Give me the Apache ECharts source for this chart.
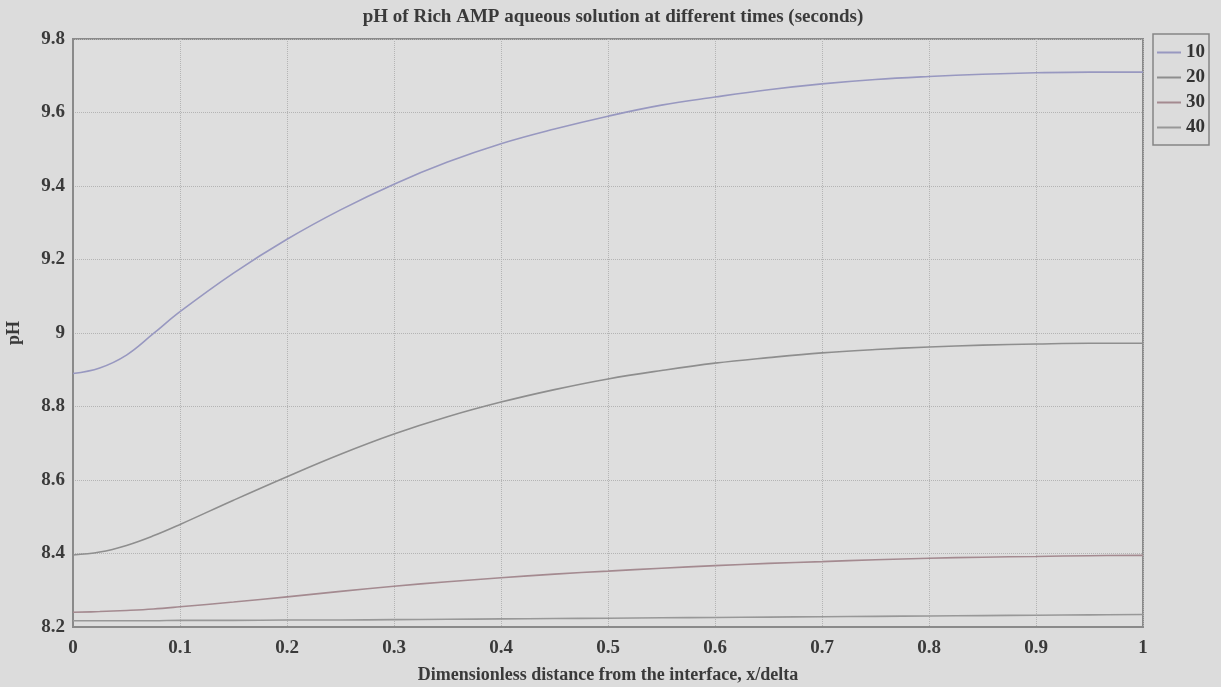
<!DOCTYPE html>
<html>
<head>
<meta charset="utf-8">
<script src="https://cdn.jsdelivr.net/npm/echarts@6/dist/echarts.min.js"></script>
<style>
html,body{margin:0;padding:0;background:#dcdcdc;}
#chart{width:1221px;height:687px;}
</style>
</head>
<body>
<div id="chart"></div>
<script>
const xValues = [0,0.025,0.05,0.075,0.1,0.15,0.2,0.25,0.3,0.35,0.4,0.45,0.5,0.55,0.6,0.65,0.7,0.75,0.8,0.85,0.9,0.95,1];
const seriesNames = ['10','20','30','40'];
const ph10 = [8.89,8.905,8.94,8.998,9.058,9.163,9.255,9.335,9.405,9.465,9.515,9.555,9.59,9.62,9.642,9.662,9.678,9.69,9.698,9.704,9.708,9.71,9.71];
const ph20 = [8.396,8.404,8.422,8.448,8.479,8.545,8.609,8.67,8.725,8.772,8.812,8.846,8.875,8.898,8.918,8.933,8.946,8.955,8.962,8.967,8.97,8.972,8.972];
const ph30 = [8.24,8.242,8.245,8.249,8.255,8.268,8.282,8.297,8.311,8.323,8.334,8.344,8.352,8.36,8.367,8.373,8.378,8.383,8.387,8.39,8.392,8.394,8.395];
const ph40 = [8.217,8.217,8.217,8.217,8.218,8.218,8.219,8.219,8.22,8.221,8.222,8.223,8.224,8.225,8.226,8.227,8.228,8.229,8.23,8.231,8.232,8.233,8.234];
const xTicks = {min:0, max:1, interval:0.1};
const yTicks = {min:8.2, max:9.8, interval:0.2};
const colors = ['#9898c0','#8e8e8e','#a48a90','#989898'];

const allSeries = [ph10, ph20, ph30, ph40];
const font = '"Liberation Serif", "DejaVu Serif", serif';
const fmt = v => String(parseFloat(v.toFixed(1)));

const chart = echarts.init(document.getElementById('chart'));
chart.setOption({
  backgroundColor:'#dcdcdc',
  animation:false,
  title:{
    text:'pH of Rich AMP aqueous solution at different times (seconds)',
    left:608, top:3, textAlign:'center',
    textStyle:{fontFamily:font, fontWeight:'bold', fontSize:19, color:'#3a3a3a'}
  },
  legend:{
    orient:'vertical', left:1153, top:34,
    data:seriesNames,
    icon:'rect', itemWidth:24, itemHeight:2, itemGap:6,
    padding:[9,4,8,4],
    borderColor:'#858585', borderWidth:1.5,
    textStyle:{fontFamily:font, fontWeight:'bold', fontSize:19, color:'#333'}
  },
  grid:{left:73, right:78, top:39, bottom:60, outerBoundsMode:'none', containLabel:false, show:true, borderColor:'#8a8a8a', borderWidth:2, backgroundColor:'#dedede'},
  xAxis:{
    type:'value', min:xTicks.min, max:xTicks.max, interval:xTicks.interval,
    name:'Dimensionless distance from the interface, x/delta',
    nameLocation:'middle', nameGap:39,
    nameTextStyle:{fontFamily:font, fontWeight:'bold', fontSize:18, color:'#3a3a3a'},
    axisLine:{show:true, lineStyle:{color:'#8a8a8a', width:2}},
    axisTick:{show:false},
    axisLabel:{formatter:fmt, margin:12, fontFamily:font, fontWeight:'bold', fontSize:19, color:'#3a3a3a'},
    splitLine:{show:true, lineStyle:{color:'#b4b4b4', type:'dotted', width:1}}
  },
  yAxis:{
    type:'value', min:yTicks.min, max:yTicks.max, interval:yTicks.interval,
    name:'pH', nameLocation:'middle', nameGap:50,
    nameTextStyle:{fontFamily:font, fontWeight:'bold', fontSize:18, color:'#3a3a3a'},
    axisLine:{show:true, lineStyle:{color:'#8a8a8a', width:2}},
    axisTick:{show:false},
    axisLabel:{formatter:fmt, margin:8, fontFamily:font, fontWeight:'bold', fontSize:19, color:'#3a3a3a'},
    splitLine:{show:true, lineStyle:{color:'#b4b4b4', type:'dotted', width:1}}
  },
  series: seriesNames.map((n,i)=>({
    name:n, type:'line', smooth:0.4, symbol:'none',
    data: xValues.map((x,j)=>[x, allSeries[i][j]]),
    lineStyle:{color:colors[i], width:1.6},
    itemStyle:{color:colors[i]}
  }))
});
</script>
</body>
</html>
